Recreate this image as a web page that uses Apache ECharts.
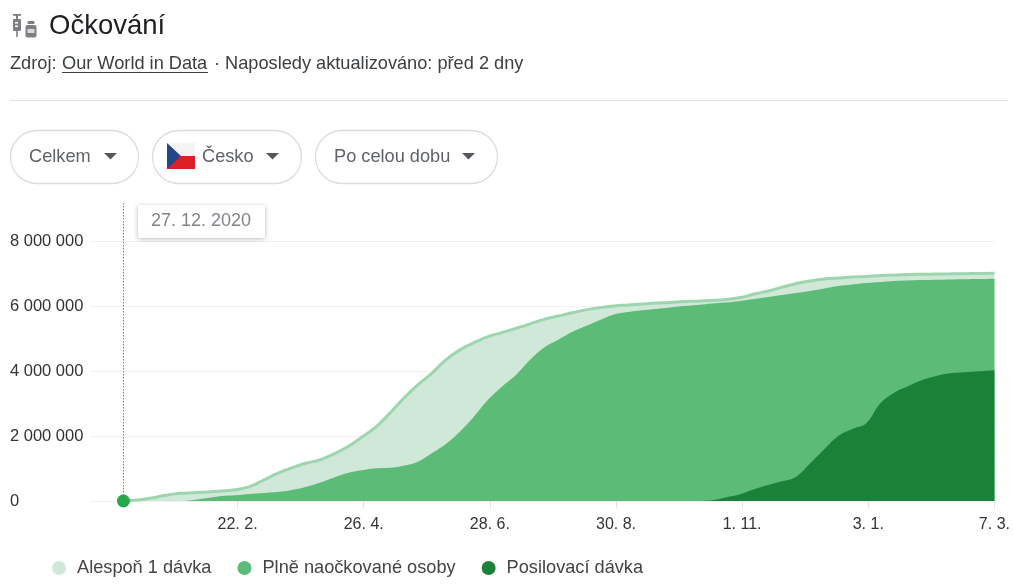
<!DOCTYPE html>
<html><head><meta charset="utf-8">
<style>html,body{margin:0;padding:0;background:#fff}#c{width:1013px;height:587px}</style>
<script src="https://cdn.jsdelivr.net/npm/echarts@6/dist/echarts.min.js"></script>
</head><body><div id="c"></div>
<script>
const dates = ['2020-12-27','2021-01-03','2021-01-10','2021-01-17','2021-01-24','2021-01-31','2021-02-07','2021-02-14','2021-02-21','2021-02-28','2021-03-07','2021-03-14','2021-03-21','2021-03-28','2021-04-04','2021-04-11','2021-04-18','2021-04-25','2021-05-02','2021-05-09','2021-05-16','2021-05-23','2021-05-30','2021-06-06','2021-06-13','2021-06-20','2021-06-27','2021-07-04','2021-07-11','2021-07-18','2021-07-25','2021-08-01','2021-08-08','2021-08-15','2021-08-22','2021-08-29','2021-09-05','2021-09-12','2021-09-19','2021-09-26','2021-10-03','2021-10-10','2021-10-17','2021-10-24','2021-10-31','2021-11-07','2021-11-14','2021-11-21','2021-11-28','2021-12-05','2021-12-12','2021-12-19','2021-12-26','2022-01-02','2022-01-09','2022-01-16','2022-01-23','2022-01-30','2022-02-06','2022-02-13','2022-02-20','2022-02-27','2022-03-07'];
const atLeastOne = [0,30,92,175,237,255,277,308,347,440,646,852,1020,1160,1262,1446,1670,1960,2270,2700,3160,3570,3930,4340,4650,4870,5060,5180,5310,5450,5590,5690,5790,5880,5950,6000,6030,6060,6090,6110,6140,6150,6170,6200,6260,6370,6460,6580,6690,6770,6830,6860,6890,6910,6940,6950,6970,6975,6985,6990,6995,7000,7005];
const fullyVaccinated = [0,0,0,0,0,31,92,154,174,215,246,277,338,431,564,718,862,943,1005,1025,1087,1210,1467,1754,2133,2595,3108,3518,3877,4338,4718,4954,5200,5385,5570,5739,5815,5868,5908,5954,6000,6031,6077,6108,6154,6215,6277,6338,6400,6462,6538,6615,6662,6708,6738,6769,6785,6800,6810,6819,6825,6831,6840];
const booster = [0,0,0,0,0,0,0,0,0,0,0,0,0,0,0,0,0,0,0,0,0,0,0,0,0,0,0,0,0,0,0,0,0,0,0,0,0,0,0,0,0,0,20,113,205,359,492,605,749,1159,1590,2000,2215,2390,3005,3333,3538,3723,3846,3928,3959,3990,4025];
const tickDates = ['2021-02-22','2021-04-26','2021-06-28','2021-08-30','2021-11-01','2022-01-03','2022-03-07'];
const tickLabels = ['22. 2.','26. 4.','28. 6.','30. 8.','1. 11.','3. 1.','7. 3.'];
const yTickLabels = ['0','2 000 000','4 000 000','6 000 000','8 000 000'];
const seriesNames = ['Alespoň 1 dávka','Plně naočkované osoby','Posilovací dávka'];
const selectedDate = '2020-12-27';
const selectedLabel = '27. 12. 2020';

const FONT = '"Liberation Sans", Arial, sans-serif';
const DAY = 86400000;
const ts = d => { const p = d.split('-').map(Number); return Date.UTC(p[0], p[1]-1, p[2])/DAY; };
const pair = arr => arr.map((v,i)=>[ts(dates[i]), v*1000]);
const tickTs = tickDates.map(ts);

const txt = (text,x,y,size,fill) => ({type:'text',silent:true,style:{text,x,y,fill,font:size+'px '+FONT,textVerticalAlign:'middle'}});
const chip = (x,w) => ({type:'rect',shape:{x:x+.5,y:130.5,width:w,height:53,r:26.5},style:{fill:'#fff',stroke:'#dcdcdc',lineWidth:1.3}});
const caret = (x) => ({type:'polygon',shape:{points:[[x,153],[x+13,153],[x+6.5,159.5]]},style:{fill:'#55595e'}});
const iconFill = '#7d7f82';
const header = [
  {type:'rect',shape:{x:13,y:14,width:8,height:1.8},style:{fill:iconFill}},
  {type:'rect',shape:{x:16,y:15,width:2,height:4},style:{fill:iconFill}},
  {type:'rect',shape:{x:13,y:19,width:8,height:12,r:1},style:{fill:iconFill}},
  {type:'rect',shape:{x:15,y:22,width:3,height:1.5},style:{fill:'#fff'}},
  {type:'rect',shape:{x:15,y:25.5,width:3,height:1.5},style:{fill:'#fff'}},
  {type:'rect',shape:{x:16.2,y:31,width:1.6,height:6},style:{fill:iconFill}},
  {type:'rect',shape:{x:27.5,y:21,width:7,height:3,r:1},style:{fill:iconFill}},
  {type:'rect',shape:{x:25.5,y:25,width:11,height:12.5,r:2},style:{fill:iconFill}},
  {type:'rect',shape:{x:27.5,y:29,width:7,height:4},style:{fill:'#d8d8d8'}},
  txt('Očkování',49,26,27.5,'#202124'),
  txt('Zdroj:',10,64,18.2,'#3c4043'),
  txt('Our World in Data',62,64,18.2,'#3c4043'),
  {type:'line',shape:{x1:62,y1:72.5,x2:208,y2:72.5},style:{stroke:'#3c4043',lineWidth:1}},
  txt('· Naposledy aktualizováno: před 2 dny',214,64,18.2,'#3c4043'),
  {type:'line',shape:{x1:10,y1:100.5,x2:1008,y2:100.5},style:{stroke:'#e4e4e4',lineWidth:1.2}},
  chip(10,128),txt('Celkem',29,157,18.2,'#5f6368'),caret(104),
  chip(152,149),
  {type:'rect',shape:{x:167,y:143,width:28,height:13},style:{fill:'#f4f4f4'}},
  {type:'rect',shape:{x:167,y:156,width:28,height:13},style:{fill:'#de1f26'}},
  {type:'polygon',shape:{points:[[167,143],[181,156],[167,169]]},style:{fill:'#21468b'}},
  txt('Česko',202,157,18.2,'#5f6368'),caret(266),
  chip(315,182),txt('Po celou dobu',334,157,18.2,'#5f6368'),caret(462),
];

const chart = echarts.init(document.getElementById('c'),null,{renderer:'canvas'});
const base = (name,data,color,line,z) => ({
  name,type:'line',data:pair(data),showSymbol:false,symbol:'none',smooth:0.4,z,
  itemStyle:{color},
  lineStyle:line?{color:line,width:3}:{width:0,color},
  areaStyle:{color,opacity:1},
  emphasis:{disabled:true},animation:false
});
const s0 = base(seriesNames[0],atLeastOne,'#cfe8d7','#9dd5ae',2);
const s1 = base(seriesNames[1],fullyVaccinated,'#5cbb77',null,3);
const s2 = base(seriesNames[2],booster,'#1c8138',null,4);
s2.markPoint = {symbol:'circle',symbolSize:13,silent:true,animation:false,
  itemStyle:{color:'#27a64c'},label:{show:false},
  data:[{coord:[ts(selectedDate),0]}]};
s2.z = 5;
chart.setOption({
  animation:false,
  backgroundColor:'#fff',
  textStyle:{fontFamily:FONT},
  grid:{left:90,right:17,top:241,bottom:86,containLabel:false},
  xAxis:{type:'value',min:ts(selectedDate)-16.7,max:ts(dates[dates.length-1]),
    axisLine:{show:false},
    splitLine:{show:false},minorTick:{show:false},
    axisTick:{show:true,length:7,customValues:tickTs,lineStyle:{color:'#e2e2e2',width:1}},
    axisLabel:{show:true,customValues:tickTs,margin:16,color:'#333',fontSize:16,hideOverlap:false,
      fontFamily:FONT,formatter:v=>tickLabels[tickTs.indexOf(v)]||''}},
  yAxis:{type:'value',min:0,max:8000000,interval:2000000,
    axisLine:{show:false},axisTick:{show:false},
    splitLine:{lineStyle:{color:'#f0f0f0',width:1}},
    axisLabel:{align:'left',margin:80,color:'#333',fontSize:16.5,fontFamily:FONT,padding:[4,0,0,0],
      formatter:v=>yTickLabels[v/2000000]}},
  legend:{left:47,top:554,icon:'circle',itemWidth:14,itemHeight:14,itemGap:26,selectedMode:false,
    data:seriesNames,textStyle:{color:'#444',fontSize:18.2,fontFamily:FONT,padding:[0,0,0,6]}},
  series:[s0,s1,s2],
});
const px = chart.convertToPixel({gridIndex:0},[ts(selectedDate),0]);
const tipX = Math.round(px[0])+15;
const tipText = txt(selectedLabel,tipX+13,221,18,'#80868b');
tipText.z = 11;
chart.setOption({graphic:{elements:header.concat([
  {type:'line',silent:true,shape:{x1:px[0],y1:203,x2:px[0],y2:px[1]},style:{stroke:'#777',lineWidth:1,lineDash:[1.5,1.5]},z:3},
  {type:'rect',silent:true,shape:{x:tipX,y:205,width:127,height:33,r:2},style:{fill:'#fff',shadowBlur:5,shadowColor:'rgba(0,0,0,0.28)',shadowOffsetY:1},z:10},
  tipText,
])}});
</script></body></html>
